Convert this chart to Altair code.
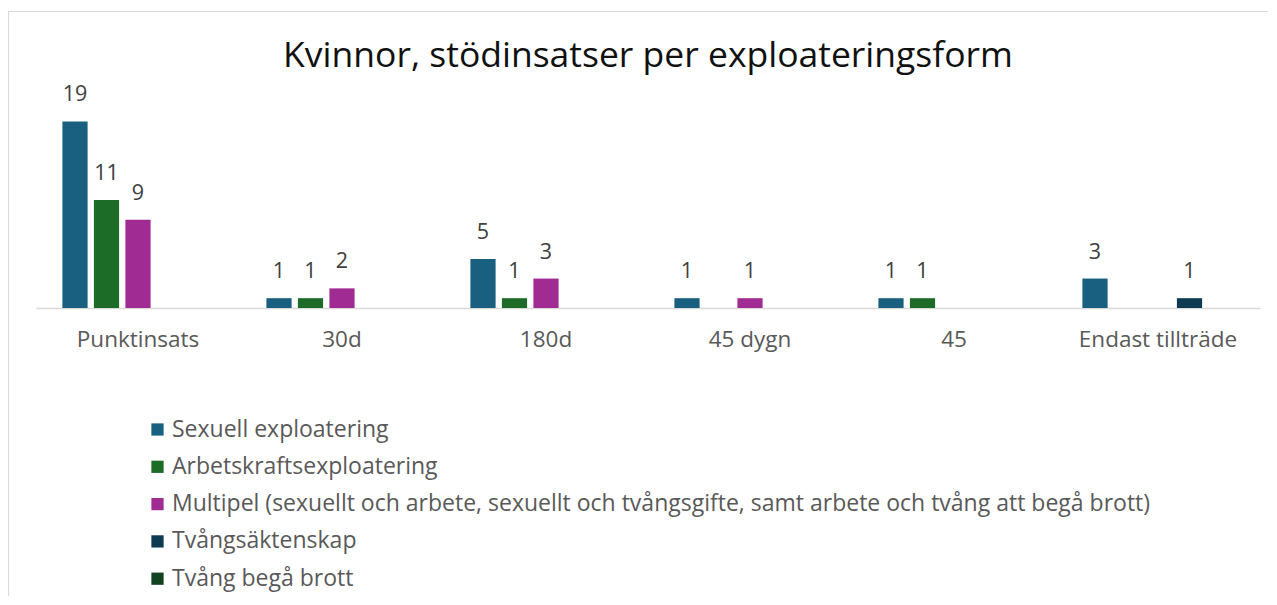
import altair as alt
import pandas as pd

categories = ["Punktinsats", "30d", "180d", "45 dygn", "45", "Endast tillträde"]
series = [
    "Sexuell exploatering",
    "Arbetskraftsexploatering",
    "Multipel (sexuellt och arbete, sexuellt och tvångsgifte, samt arbete och tvång att begå brott)",
    "Tvångsäktenskap",
    "Tvång begå brott",
]
colors = ["#185f80", "#1c6b26", "#a02b93", "#0e3a52", "#124320"]

sexuell = [19, 1, 5, 1, 1, 3]
arbetskraft = [11, 1, 1, None, 1, None]
multipel = [9, 2, 3, 1, None, None]
tvangsaktenskap = [None, None, None, None, None, 1]
tvang_brott = [None, None, None, None, None, None]

values = [sexuell, arbetskraft, multipel, tvangsaktenskap, tvang_brott]
rows = []
for s, vals in zip(series, values):
    for c, v in zip(categories, vals):
        if v is not None:
            rows.append({"kategori": c, "serie": s, "antal": v})
df = pd.DataFrame(rows)

FONT = "Open Sans"
TXT = "#595959"

x = alt.X("kategori:N", sort=categories,
          scale=alt.Scale(paddingInner=0.228, paddingOuter=0.114),
          axis=alt.Axis(title=None, labelAngle=0, ticks=False, labelPadding=20,
                        labelFontSize=22.5, labelColor=TXT, labelFont=FONT,
                        domainColor="#d9d9d9", domainWidth=1.5, grid=False))
xo = alt.XOffset("serie:N", sort=series,
                 scale=alt.Scale(domain=series, paddingInner=0.2, paddingOuter=0.1))
y = alt.Y("antal:Q", scale=alt.Scale(domain=[0, 22], nice=False),
          axis=None)

bars = alt.Chart(df).mark_bar().encode(
    x=x, xOffset=xo, y=y,
    color=alt.Color("serie:N", sort=series,
                    scale=alt.Scale(domain=series, range=colors),
                    legend=alt.Legend(title=None, orient="none", legendX=110, legendY=326,
                                      direction="vertical", symbolType="square",
                                      symbolSize=150, symbolStrokeWidth=0,
                                      labelFontSize=23, labelColor=TXT, labelFont=FONT,
                                      labelLimit=2000, rowPadding=13.3, labelOffset=3)),
)

labels = alt.Chart(df).mark_text(dy=-26, baseline="middle", fontSize=21.5,
                                 color="#404040", font=FONT).encode(
    x=x, xOffset=xo, y=y, text="antal:Q")

border = alt.Chart(alt.Data(values=[{}])).mark_rect(
    fill="transparent", stroke="#d9d9d9", strokeWidth=1.2).encode(
    x=alt.value(-27.5), x2=alt.value(1400), y=alt.value(-80.5), y2=alt.value(700))

chart = alt.layer(border, bars, labels).properties(
    width=1224, height=216,
    title=alt.Title("Kvinnor, stödinsatser per exploateringsform", fontSize=35.5,
                    font=FONT, fontWeight="normal", color="#111111",
                    anchor="middle", offset=0, dy=64),
    autosize=alt.AutoSizeParams(type="none"),
    padding={"left": 28, "top": 84, "right": 8, "bottom": 288},
).configure(background="white").configure_view(strokeWidth=0, stroke=None)

chart.save("out.html", embed_options={"renderer": "svg", "actions": False})
